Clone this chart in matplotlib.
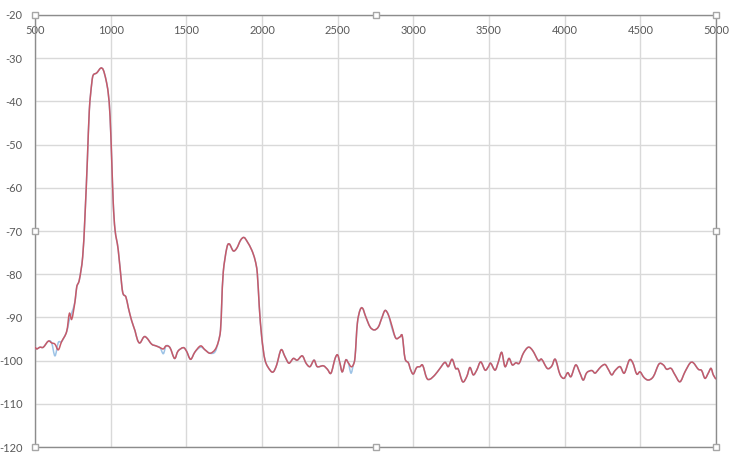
import matplotlib.pyplot as plt
from matplotlib.path import Path
from matplotlib.patches import PathPatch

# frecuencia (Hz) y nivel (dB)
freq = [500, 511, 533, 555, 588, 610, 632, 654, 676, 709, 727, 743, 764, 776, 793,
        815, 830, 846, 859, 875, 885, 908, 934, 951, 969, 984, 996, 1007, 1017, 1029,
        1050, 1073, 1083, 1101, 1117, 1139, 1161, 1177, 1194, 1220, 1240, 1271, 1300,
        1326, 1348, 1366, 1392, 1422, 1445, 1480, 1501, 1528, 1557, 1594, 1623, 1656,
        1689, 1711, 1726, 1734, 1744, 1767, 1784, 1810, 1833, 1859, 1881, 1903, 1932,
        1954, 1969, 1982, 1998, 2020, 2053, 2075, 2097, 2126, 2152, 2178, 2207, 2233,
        2266, 2291, 2317, 2344, 2365, 2405, 2432, 2456, 2483, 2500, 2515, 2531, 2553,
        2570, 2588, 2603, 2615, 2630, 2648, 2665, 2685, 2714, 2742, 2769, 2791, 2813,
        2835, 2857, 2884, 2912, 2927, 2945, 2967, 2983, 3000, 3022, 3044, 3062, 3088,
        3110, 3143, 3176, 3209, 3231, 3256, 3279, 3297, 3326, 3353, 3374, 3396, 3419,
        3445, 3474, 3496, 3511, 3540, 3562, 3584, 3606, 3632, 3654, 3678, 3700, 3727,
        3760, 3789, 3826, 3848, 3885, 3914, 3938, 3969, 3996, 4020, 4042, 4073, 4101,
        4123, 4146, 4179, 4200, 4218, 4240, 4267, 4288, 4311, 4333, 4366, 4394, 4427,
        4450, 4476, 4498, 4524, 4553, 4586, 4623, 4652, 4674, 4703, 4729, 4762, 4795,
        4828, 4850, 4883, 4905, 4927, 4949, 4967, 4982, 5000]

nivel_rojo = [-96.8, -97.3, -96.9, -96.9, -95.5, -95.9, -96.2, -97.5, -95.6, -93.3,
              -89.1, -90.4, -86.4, -82.9, -81.3, -76.0, -66.7, -53.6, -42.0, -35.8,
              -33.9, -33.4, -32.3, -32.7, -35.0, -38.1, -43.5, -53.6, -63.5, -69.8,
              -74.4, -82.5, -84.6, -85.3, -87.8, -90.8, -93.1, -95.2, -95.9, -94.5,
              -94.8, -96.2, -96.6, -97.0, -97.3, -96.6, -97.0, -99.5, -97.8, -97.0,
              -97.8, -99.7, -98.0, -96.6, -97.5, -98.3, -97.5, -95.7, -92.9, -86.7,
              -79.5, -74.0, -73.0, -74.6, -74.0, -72.1, -71.5, -72.5, -74.4, -76.7,
              -79.8, -87.5, -94.5, -99.9, -102.2, -102.6, -101.0, -97.5, -99.1, -100.6,
              -99.5, -99.9, -98.9, -100.6, -101.4, -99.9, -101.4, -101.2, -102.0, -102.9,
              -99.5, -98.7, -100.6, -102.6, -99.9, -100.5, -101.4, -101.0, -99.1, -91.4,
              -88.3, -87.9, -89.8, -92.2, -92.9, -92.2, -90.2, -88.4, -89.4, -91.8,
              -94.8, -94.5, -94.3, -99.5, -100.5, -102.2, -103.1, -101.6, -101.4, -101.1,
              -104.0, -104.3, -103.3, -101.8, -100.4, -101.4, -99.7, -101.8, -102.0, -104.9,
              -103.7, -101.6, -103.3, -102.2, -100.3, -102.2, -101.4, -100.6, -102.2, -100.3,
              -98.1, -101.4, -99.5, -101.0, -100.5, -100.6, -98.3, -96.9, -97.7, -100.0,
              -99.7, -101.8, -101.3, -99.7, -103.2, -104.1, -102.8, -103.7, -101.0, -102.9,
              -104.5, -102.8, -102.3, -102.9, -102.3, -101.4, -100.9, -102.0, -103.3, -102.3,
              -101.4, -102.9, -99.9, -100.5, -103.1, -102.6, -103.9, -104.5, -103.7, -100.8,
              -101.0, -102.0, -101.8, -103.3, -104.9, -102.6, -100.6, -100.5, -102.0, -102.3,
              -104.1, -102.9, -101.8, -103.3, -104.3]

# la serie azul es casi igual, salvo algunos valles
nivel_azul = list(nivel_rojo)
nivel_azul[6] = -98.9
nivel_azul[7] = -95.8
nivel_azul[10] = -90.6
nivel_azul[11] = -88.9
nivel_azul[44] = -98.4
nivel_azul[53] = -96.9
nivel_azul[56] = -98.0
nivel_azul[96] = -102.9
nivel_azul[109] = -92.3

x_ticks = list(range(500, 5001, 500))
y_ticks = list(range(-120, -19, 10))


def linea_suave(x, y):
    # curva suavizada tipo Excel (Catmull-Rom -> Bezier)
    verts = [(x[0], y[0])]
    codes = [Path.MOVETO]
    n = len(x)
    for i in range(n - 1):
        x0, y0 = (x[i - 1], y[i - 1]) if i > 0 else (x[i], y[i])
        x1, y1 = x[i], y[i]
        x2, y2 = x[i + 1], y[i + 1]
        x3, y3 = (x[i + 2], y[i + 2]) if i + 2 < n else (x2, y2)
        verts += [(x1 + (x2 - x0) / 6, y1 + (y2 - y0) / 6),
                  (x2 - (x3 - x1) / 6, y2 - (y3 - y1) / 6),
                  (x2, y2)]
        codes += [Path.CURVE4] * 3
    return Path(verts, codes)


plt.rcParams['font.family'] = ['Lato', 'DejaVu Sans']
plt.rcParams['axes.unicode_minus'] = False

fig = plt.figure(figsize=(7.31, 4.69), dpi=100)
ax = fig.add_axes([35 / 731, 1 - 447 / 469, 681 / 731, 432 / 469])

ax.add_patch(PathPatch(linea_suave(freq, nivel_azul), fill=False,
                       edgecolor='#9DC3E6', lw=1.1, zorder=3))
ax.add_patch(PathPatch(linea_suave(freq, nivel_rojo), fill=False,
                       edgecolor='#C65A68', lw=1.1, zorder=4))

ax.set_xlim(500, 5000)
ax.set_ylim(-120, -20)
ax.set_xticks(x_ticks)
ax.set_yticks(y_ticks)
ax.grid(True, color='#D9D9D9', lw=1)
ax.set_axisbelow(True)

ax.xaxis.set_ticks_position('top')
ax.tick_params(axis='x', length=0, pad=-15, labelsize=8, labelcolor='#595959')
ax.tick_params(axis='y', length=0, pad=9, labelsize=8, labelcolor='#595959')

for s in ax.spines.values():
    s.set_color('#8C8C8C')
    s.set_linewidth(1)

# marcas de seleccion del area de trazado
for hx, hy in [(0, 0), (0.5, 0), (1, 0), (0, 0.5), (1, 0.5), (0, 1), (0.5, 1), (1, 1)]:
    ax.plot(hx, hy, marker='s', ms=5, mfc='white', mec='#A6A6A6', mew=1,
            transform=ax.transAxes, clip_on=False, zorder=10)

plt.savefig('out.png', dpi=100)
